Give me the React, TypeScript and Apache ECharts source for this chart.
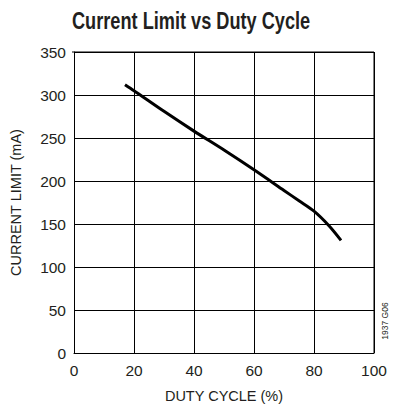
import React, { useEffect, useRef } from "react";
import * as echarts from "echarts";

const dutyCycle = [17, 20, 30, 40, 50, 60, 70, 75, 80, 85, 89];
const currentLimit = [312, 305, 281, 258, 236, 213, 189, 177, 165, 148, 131];
const xTicks = [0, 20, 40, 60, 80, 100];
const yTicks = [0, 50, 100, 150, 200, 250, 300, 350];

const FONT = "'Liberation Sans', Arial, sans-serif";
const INK = "#231f20";

export default function App() {
  const ref = useRef<HTMLDivElement>(null);
  useEffect(() => {
    if (!ref.current) return;
    const chart = echarts.init(ref.current, undefined, { renderer: "svg" });
    chart.setOption({
      animation: false,
      backgroundColor: "#ffffff",
      grid: { left: 72, right: 24, top: 52, bottom: 61, containLabel: false },
      xAxis: {
        type: "value",
        min: xTicks[0],
        max: xTicks[xTicks.length - 1],
        interval: 20,
        name: "DUTY CYCLE (%)",
        nameLocation: "middle",
        nameGap: 35,
        nameTextStyle: { fontFamily: FONT, fontSize: 14.5, color: INK },
        axisLine: { show: true, lineStyle: { color: "#000", width: 1 } },
        axisTick: { show: false },
        axisLabel: { fontFamily: FONT, fontSize: 15.5, color: INK, margin: 9 },
        splitLine: { show: true, lineStyle: { color: "#000", width: 1 } },
      },
      yAxis: {
        type: "value",
        min: yTicks[0],
        max: yTicks[yTicks.length - 1],
        interval: 50,
        name: "CURRENT LIMIT (mA)",
        nameLocation: "middle",
        nameRotate: 90,
        nameGap: 51,
        nameTextStyle: { fontFamily: FONT, fontSize: 14.5, color: INK },
        axisLine: { show: true, lineStyle: { color: "#000", width: 1 } },
        axisTick: { show: false },
        axisLabel: { fontFamily: FONT, fontSize: 15.5, color: INK, margin: 8 },
        splitLine: { show: true, lineStyle: { color: "#000", width: 1 } },
      },
      graphic: [
        {
          type: "text",
          left: 72,
          top: 9,
          scaleX: 0.79,
          style: {
            text: "Current Limit vs Duty Cycle",
            fontFamily: FONT,
            fontSize: 23,
            fontWeight: "bold",
            fill: INK,
          },
        },
        {
          type: "text",
          x: 385,
          y: 321,
          rotation: Math.PI / 2,
          style: {
            text: "1937 G06",
            fontFamily: FONT,
            fontSize: 8.5,
            fill: INK,
            align: "center",
            verticalAlign: "middle",
          },
        },
        {
          type: "line",
          shape: { x1: 374, y1: 52, x2: 374, y2: 353 },
          style: { stroke: "#000", lineWidth: 1 },
        },
        {
          type: "line",
          shape: { x1: 72, y1: 52, x2: 374, y2: 52 },
          style: { stroke: "#000", lineWidth: 1 },
        },
      ],
      series: [
        {
          type: "line",
          data: dutyCycle.map((d, i) => [d, currentLimit[i]]),
          smooth: 0.3,
          showSymbol: false,
          lineStyle: { color: "#000", width: 3 },
        },
      ],
    });
    return () => chart.dispose();
  }, []);
  return <div ref={ref} style={{ width: 398, height: 414, position: "absolute", left: 0, top: 0 }} />;
}
